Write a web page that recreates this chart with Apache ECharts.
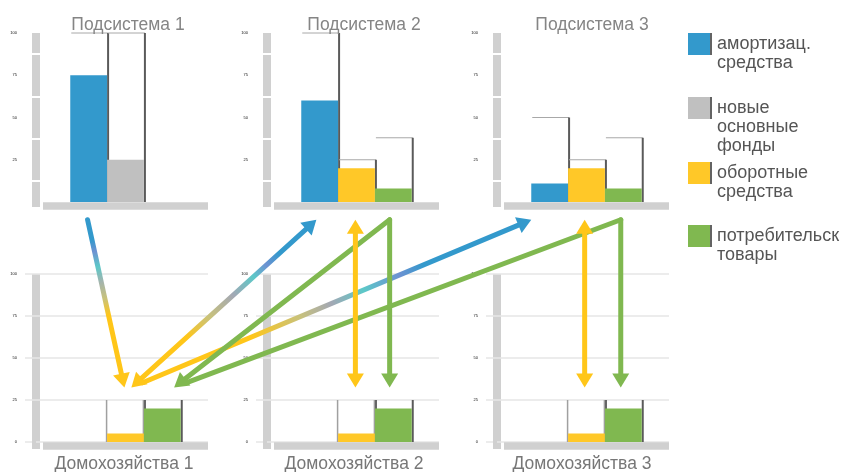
<!DOCTYPE html>
<html>
<head>
<meta charset="utf-8">
<script src="https://cdn.jsdelivr.net/npm/echarts@6/dist/echarts.min.js"></script>
<style>
  html, body { margin: 0; padding: 0; background: #ffffff; }
  #chart { width: 843px; height: 472px; }
</style>
</head>
<body>
<div id="chart"></div>
<script>
// ---- data ----
const topTitles = ['Подсистема 1', 'Подсистема 2', 'Подсистема 3'];
const bottomTitles = ['Домохозяйства 1', 'Домохозяйства 2', 'Домохозяйства 3'];
const kindNames = ['амортизац.\nсредства', 'новые\nосновные\nфонды', 'оборотные\nсредства', 'потребительск\nтовары'];
const kindColors = ['#3399cc', '#c0c0c0', '#ffc828', '#80b850'];
const yTicks = [0, 25, 50, 75, 100];

// subsystems: bar kind per slot, filled value, frame height
const sub1Kinds = [0, 1];
const sub1Values = [75, 25];
const sub1Frames = [100, 100];
const sub2Kinds = [0, 2, 3];
const sub2Values = [60, 20, 8];
const sub2Frames = [100, 25, 38];
const sub3Kinds = [0, 2, 3];
const sub3Values = [11, 20, 8];
const sub3Frames = [50, 25, 38];
// households (slots 1 and 2)
const homeSlots = [1, 2];
const homeKinds = [2, 3];
const homeValues = [[5, 20], [5, 20], [5, 20]];
const homeFrames = [[25, 25], [25, 25], [25, 25]];

// flows between panels: [fromPanel, fromSlot, toPanel, toSlot, startCap, endCap, gradient]
// panels 0..2 are subsystems, 3..5 are households
const gradBlueToYellow = [[0, '#3399cc'], [0.12, '#3399cc'], [0.19, '#6d92d2'], [0.28, '#5cc8c8'], [0.37, '#a3b4ae'], [0.47, '#c9c27a'], [0.57, '#ffc619'], [1, '#ffc619']];
const gradYellowToBlue = [[0, '#ffc619'], [0.3, '#ffc619'], [0.42, '#c9c27a'], [0.55, '#a3a8b4'], [0.66, '#5cc8c8'], [0.73, '#6d92d2'], [0.8, '#3399cc'], [1, '#3399cc']];
const gradYellowToBlueLong = [[0, '#ffc619'], [0.3, '#ffc619'], [0.42, '#c9c27a'], [0.5, '#a3a8b4'], [0.58, '#5cc8c8'], [0.67, '#6d92d2'], [0.73, '#3399cc'], [1, '#3399cc']];
const gradGreen = [[0, '#80b850'], [1, '#80b850']];
const gradYellow = [[0, '#ffc619'], [1, '#ffc619']];
const flows = [
  [0, 0.47, 3, 1.47, 'none', 'head', gradBlueToYellow],
  [3, 1.66, 1, 0.41, 'head', 'head', gradYellowToBlue],
  [3, 1.66, 2, 0.0, 'join', 'head', gradYellowToBlueLong],
  [1, 2.40, 3, 2.82, 'none', 'head', gradGreen],
  [1, 2.40, 4, 2.40, 'none', 'head', gradGreen],
  [2, 2.43, 3, 2.82, 'none', 'join', gradGreen],
  [2, 2.43, 5, 2.43, 'none', 'head', gradGreen],
  [1, 1.47, 4, 1.47, 'head', 'head', gradYellow],
  [2, 1.45, 5, 1.45, 'head', 'head', gradYellow]
];

// ---- layout ----
const FONT = 'Liberation Sans, Arial, sans-serif';
const PANEL_LEFT = [43, 274, 504];
const PANEL_WIDTH = 165;
const TOP_GRID = { top: 33, height: 169 };
const BOTTOM_GRID = { top: 274, height: 168 };
const TOP_TITLE_X = [128, 364, 592];
const BOTTOM_TITLE_X = [124, 354, 582];
const X_MIN = -0.74, X_MAX = 3.74;
const TOP_LEVEL = -10.5;     // arrow anchor just under a subsystem's base (axis units)
const BOTTOM_LEVEL = 32.5;   // arrow anchor just above a household's frames
const HEAD_LEN = 14, HEAD_HALF = 8.5, LINE_W = 5;
const LEGEND_ICON_TOPS = [33, 97, 162, 225];
const LEGEND_ICON = 22;
const LEGEND_LH = 19;

const chart = echarts.init(document.getElementById('chart'), null, { renderer: 'canvas' });

const grids = [], xAxes = [], yAxesA = [], yAxesB = [], series = [], titles = [];

for (let p = 0; p < 6; p++) {
  const isTop = p < 3;
  const col = p % 3;
  const g = isTop ? TOP_GRID : BOTTOM_GRID;
  grids.push({ left: PANEL_LEFT[col], width: PANEL_WIDTH, top: g.top, height: g.height });
  xAxes.push({
    gridIndex: p, type: 'value', min: X_MIN, max: X_MAX, offset: 3.5,
    axisLine: { show: true, onZero: false, lineStyle: { color: '#d0d0d0', width: 7.5, cap: 'butt' } },
    axisTick: { show: false }, axisLabel: { show: false }, splitLine: { show: false }
  });
  const tickStyle = isTop
    ? { axisTick: { show: false }, minorTick: { show: true, splitNumber: 2, length: 5, lineStyle: { color: '#ffffff', width: 2 } } }
    : { axisTick: { show: true, length: 11, lineStyle: { color: '#e6e6e6', width: 1.5 } } };
  yAxesA.push(Object.assign({
    gridIndex: p, type: 'value', min: yTicks[0], max: yTicks[yTicks.length - 1], interval: yTicks[1] - yTicks[0],
    position: 'left', offset: 7,
    axisLine: { show: true, onZero: false, symbol: ['rect', 'none'], symbolSize: [8, isTop ? 10 : 14],
      lineStyle: { color: '#d0d0d0', width: 8, cap: 'butt' } },
    axisLabel: { show: true, fontSize: 4, color: '#111', margin: 19, showMinLabel: !isTop, fontFamily: FONT },
    splitLine: isTop ? { show: false } : { show: true, lineStyle: { color: '#e6e6e6', width: 1.5 } }
  }, tickStyle));
  const innerTick = isTop
    ? { axisTick: { show: false, inside: true }, minorTick: { show: true, splitNumber: 2, length: 5, lineStyle: { color: '#ffffff', width: 2 } } }
    : { axisTick: { show: true, inside: true, length: 7, lineStyle: { color: '#e6e6e6', width: 1.5 } } };
  yAxesB.push(Object.assign({
    gridIndex: p, type: 'value', min: yTicks[0], max: yTicks[yTicks.length - 1], interval: yTicks[1] - yTicks[0],
    position: 'left', offset: 7, z: 1,
    axisLine: { show: false, onZero: false }, axisLabel: { show: false }, splitLine: { show: false }
  }, innerTick));
  titles.push({
    text: isTop ? topTitles[col] : bottomTitles[col],
    left: isTop ? TOP_TITLE_X[col] : BOTTOM_TITLE_X[col], textAlign: 'center',
    top: isTop ? 16 : 455, padding: 0,
    textStyle: { fontSize: 17.5, fontWeight: 'normal', color: isTop ? '#858585' : '#777777', fontFamily: FONT }
  });
}

// frame outlines behind the bars
function renderFrameTop(params, api) {
  const slot = api.value(0), cap = api.value(1);
  const tl = api.coord([slot, cap]), tr = api.coord([slot + 1, cap]), br = api.coord([slot + 1, 0]);
  return { type: 'group', children: [
    { type: 'line', shape: { x1: tl[0] + 1, y1: tl[1], x2: tr[0] + 1, y2: tr[1] }, style: { stroke: '#a8a8a8', lineWidth: 1 } },
    { type: 'line', shape: { x1: tr[0] + 1, y1: tr[1], x2: br[0] + 1, y2: br[1] }, style: { stroke: '#5a5a5a', lineWidth: 2 } }
  ] };
}
function renderFrameHome(params, api) {
  const slot = api.value(0), cap = api.value(1);
  const tl = api.coord([slot, cap]), bl = api.coord([slot, 0]);
  const tr = api.coord([slot + 1, cap]), br = api.coord([slot + 1, 0]);
  return { type: 'group', children: [
    { type: 'line', shape: { x1: tl[0] - 0.5, y1: tl[1], x2: bl[0] - 0.5, y2: bl[1] }, style: { stroke: '#a0a0a0', lineWidth: 1.5 } },
    { type: 'line', shape: { x1: tr[0] + 1, y1: tr[1], x2: br[0] + 1, y2: br[1] }, style: { stroke: '#5a5a5a', lineWidth: 2 } }
  ] };
}
function renderBar(params, api) {
  const slot = api.value(0), v = api.value(1);
  const p0 = api.coord([slot, v]), p1 = api.coord([slot + 1, 0]);
  return { type: 'rect', shape: { x: p0[0], y: p0[1], width: p1[0] - p0[0], height: p1[1] - p0[1] }, style: { fill: api.visual('color') } };
}

function addPanel(p, kinds, slots, values, frames, isTop) {
  series.push({
    type: 'custom', name: 'frame' + p, xAxisIndex: p, yAxisIndex: p, z: 2, silent: true,
    renderItem: isTop ? renderFrameTop : renderFrameHome,
    encode: { x: 0, y: 1 },
    data: slots.map((s, i) => [s, frames[i]])
  });
  kinds.forEach((k, i) => {
    series.push({
      type: 'custom', name: kindNames[k], xAxisIndex: p, yAxisIndex: p, z: 3, silent: true,
      itemStyle: { color: kindColors[k] },
      renderItem: renderBar, encode: { x: 0, y: 1 },
      data: [[slots[i], values[i]]]
    });
  });
}
addPanel(0, sub1Kinds, [0, 1], sub1Values, sub1Frames, true);
addPanel(1, sub2Kinds, [0, 1, 2], sub2Values, sub2Frames, true);
addPanel(2, sub3Kinds, [0, 1, 2], sub3Values, sub3Frames, true);
for (let h = 0; h < 3; h++) addPanel(3 + h, homeKinds, homeSlots, homeValues[h], homeFrames[h], false);

// one legend per entry; leading empty lines keep the first text line level with the swatch
const legends = kindNames.map((name, i) => {
  const lines = name.split('\n').length;
  const above = ((2 * lines - 1) * LEGEND_LH) / 2 - LEGEND_ICON / 2;
  return {
    data: [name], orient: 'vertical', left: 688, top: LEGEND_ICON_TOPS[i] - above, padding: 0,
    icon: 'rect', itemWidth: LEGEND_ICON, itemHeight: LEGEND_ICON, selectedMode: false,
    formatter: n => '\n'.repeat(lines - 1) + n,
    itemStyle: { shadowColor: 'rgba(60,60,60,0.8)', shadowOffsetX: 2, shadowOffsetY: 0, shadowBlur: 0 },
    textStyle: { fontSize: 18, color: '#555555', fontFamily: FONT, lineHeight: LEGEND_LH, padding: [0, 0, 0, 2] }
  };
});

chart.setOption({
  animation: false,
  textStyle: { fontFamily: FONT },
  title: titles,
  legend: legends,
  grid: grids,
  xAxis: xAxes,
  yAxis: yAxesA.concat(yAxesB),
  series: series
});

// ---- flow arrows, placed through each panel's axes ----
function anchor(panel, slot) {
  const level = panel < 3 ? TOP_LEVEL : BOTTOM_LEVEL;
  return chart.convertToPixel({ xAxisIndex: panel, yAxisIndex: panel }, [slot, level]);
}
function headPolygon(tip, ux, uy, color) {
  const bx = tip[0] - ux * HEAD_LEN, by = tip[1] - uy * HEAD_LEN;
  const nx = -uy, ny = ux;
  return { type: 'polygon', silent: true, z: 20,
    shape: { points: [[tip[0], tip[1]], [bx + nx * HEAD_HALF, by + ny * HEAD_HALF], [bx - nx * HEAD_HALF, by - ny * HEAD_HALF]] },
    style: { fill: color } };
}
const arrowEls = [];
flows.forEach(f => {
  const [fp, fs, tp, ts, startCap, endCap, stops] = f;
  const s = anchor(fp, fs), e = anchor(tp, ts);
  const dx = e[0] - s[0], dy = e[1] - s[1], len = Math.hypot(dx, dy);
  const ux = dx / len, uy = dy / len;
  const sPull = startCap === 'none' ? 0 : HEAD_LEN - 2;
  const ePull = endCap === 'none' ? 0 : HEAD_LEN - 2;
  arrowEls.push({
    type: 'line', silent: true, z: 19,
    shape: { x1: s[0] + ux * sPull, y1: s[1] + uy * sPull, x2: e[0] - ux * ePull, y2: e[1] - uy * ePull },
    style: { lineWidth: LINE_W, lineCap: 'round',
      stroke: { type: 'linear', x: s[0], y: s[1], x2: e[0], y2: e[1], global: true,
        colorStops: stops.map(st => ({ offset: st[0], color: st[1] })) } }
  });
  if (startCap === 'head') arrowEls.push(headPolygon(s, -ux, -uy, stops[0][1]));
  if (endCap === 'head') arrowEls.push(headPolygon(e, ux, uy, stops[stops.length - 1][1]));
});
chart.setOption({ graphic: { elements: arrowEls } });
</script>
</body>
</html>
